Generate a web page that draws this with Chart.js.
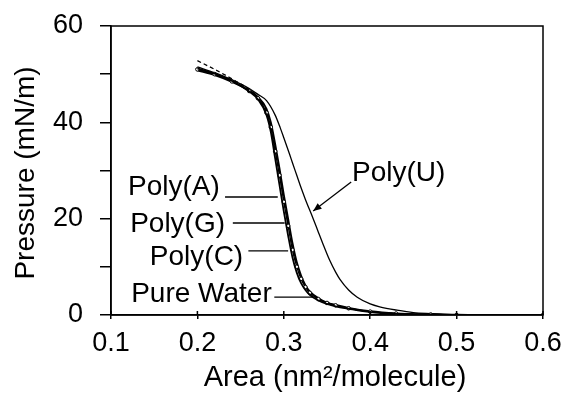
<!DOCTYPE html>
<html lang="en">
  <head>
    <meta charset="UTF-8" />
    <title>Pressure-area isotherms</title>
    <script src="https://cdn.jsdelivr.net/npm/chart.js"></script>
    <style>
      html, body { margin: 0; padding: 0; background: #fff; }
      #wrap { position: relative; width: 562px; height: 394px; }
    </style>
  </head>
  <body>
    <div id="wrap"><canvas id="myChart"></canvas></div>
    <script>
      // areas (nm2/molecule) shared by the four clustered curves
      var clusterArea = [0.20, 0.22, 0.24, 0.26, 0.27, 0.28, 0.285, 0.29, 0.295, 0.30, 0.305, 0.31, 0.315,
        0.32, 0.325, 0.33, 0.34, 0.35, 0.36, 0.375, 0.40, 0.43, 0.47, 0.50, 0.60];
      var pressA = [51.2, 50.1, 48.6, 46.4, 44.8, 41.5, 38, 32.5, 27, 21.5, 16.5, 12, 8.8,
        6.6, 5.2, 4.2, 3.0, 2.3, 1.8, 1.3, 0.6, 0.25, 0.1, 0, 0];
      var pressG = [51.0, 50.0, 48.5, 46.5, 45.0, 42.0, 39, 34, 29, 23.5, 18.5, 13.5, 10,
        7.5, 5.8, 4.6, 3.3, 2.5, 2.0, 1.4, 0.7, 0.3, 0.1, 0, 0];
      var pressC = [50.8, 49.8, 48.4, 46.6, 45.3, 42.8, 40, 35.5, 30.5, 25, 20, 15, 11,
        8.2, 6.2, 4.9, 3.5, 2.6, 2.1, 1.5, 0.8, 0.35, 0.12, 0, 0];
      var pressWater = [52.8, 51.0, 49.0, 46.8, 45.2, 42.3, 39.5, 34.8, 29.5, 24, 19, 14, 10.4,
        7.8, 6.0, 4.8, 3.4, 2.6, 2.0, 1.4, 0.7, 0.3, 0.1, 0, 0];

      var areaU = [0.20, 0.22, 0.24, 0.26, 0.27, 0.28, 0.29, 0.296, 0.30, 0.307, 0.31, 0.315, 0.32, 0.325,
        0.334, 0.34, 0.345, 0.353, 0.36, 0.365, 0.375, 0.385, 0.40, 0.411, 0.431, 0.45, 0.47, 0.50, 0.60];
      var pressU = [51.5, 50.3, 48.8, 47.0, 45.8, 44.5, 41.5, 38.8, 36.8, 33.2, 31.6, 29.0, 26.4, 24.0,
        20.0, 17.2, 14.9, 11.4, 8.9, 7.4, 5.2, 3.7, 2.3, 1.7, 1.0, 0.5, 0.3, 0.1, 0];

      var xTicks = [0.1, 0.2, 0.3, 0.4, 0.5, 0.6];
      var yLabels = [0, 20, 40, 60];

      function pts(xs, ys) {
        return xs.map(function (x, i) { return { x: x, y: ys[i] }; });
      }

      // label text + leader line, in data units
      var notes = [
        { text: "Poly(A)", tx: 0.226, ty: 26.6, align: "right", x1: 0.232, y1: 24.5, x2: 0.293, y2: 24.5 },
        { text: "Poly(G)", tx: 0.232, ty: 18.9, align: "right", x1: 0.241, y1: 19.1, x2: 0.301, y2: 19.1 },
        { text: "Poly(C)", tx: 0.253, ty: 12.0, align: "right", x1: 0.259, y1: 13.3, x2: 0.305, y2: 13.3 },
        { text: "Pure Water", tx: 0.286, ty: 4.4, align: "right", x1: 0.289, y1: 3.7, x2: 0.334, y2: 3.7 },
        { text: "Poly(U)", tx: 0.379, ty: 29.5, align: "left", x1: 0.378, y1: 27.6, x2: 0.334, y2: 21.6, arrow: true }
      ];

      var extras = {
        id: "extras",
        afterDraw: function (chart) {
          var ctx = chart.ctx;
          var a = chart.chartArea;
          var xs = chart.scales.x;
          var ys = chart.scales.y;
          ctx.save();
          ctx.strokeStyle = "#000";
          ctx.lineWidth = 1.5;
          ctx.strokeRect(a.left, a.top, a.right - a.left, a.bottom - a.top);
          // small inner tick marks on x axis
          xTicks.forEach(function (v) {
            var px = xs.getPixelForValue(v);
            ctx.beginPath();
            ctx.moveTo(px, a.bottom);
            ctx.lineTo(px, a.bottom - 4);
            ctx.stroke();
          });
          ctx.fillStyle = "#000";
          ctx.font = "28px 'Liberation Sans', Arial, sans-serif";
          ctx.textBaseline = "middle";
          ctx.lineWidth = 1.3;
          notes.forEach(function (n) {
            ctx.textAlign = n.align;
            ctx.fillText(n.text, xs.getPixelForValue(n.tx), ys.getPixelForValue(n.ty));
            var x1 = xs.getPixelForValue(n.x1), y1 = ys.getPixelForValue(n.y1);
            var x2 = xs.getPixelForValue(n.x2), y2 = ys.getPixelForValue(n.y2);
            ctx.beginPath();
            ctx.moveTo(x1, y1);
            ctx.lineTo(x2, y2);
            ctx.stroke();
            if (n.arrow) {
              var ang = Math.atan2(y2 - y1, x2 - x1);
              ctx.beginPath();
              ctx.moveTo(x2, y2);
              ctx.lineTo(x2 - 9 * Math.cos(ang - 0.4), y2 - 9 * Math.sin(ang - 0.4));
              ctx.lineTo(x2 - 9 * Math.cos(ang + 0.4), y2 - 9 * Math.sin(ang + 0.4));
              ctx.closePath();
              ctx.fill();
            }
          });
          // axis titles
          ctx.font = "29px 'Liberation Sans', Arial, sans-serif";
          ctx.textAlign = "center";
          ctx.fillText("Area (nm²/molecule)", 335, 378);
          ctx.font = "28px 'Liberation Sans', Arial, sans-serif";
          ctx.translate(26, 173);
          ctx.rotate(-Math.PI / 2);
          ctx.fillText("Pressure (mN/m)", 0, 0);
          ctx.restore();
        }
      };

      function line(label, data, extra) {
        var d = {
          label: label,
          data: data,
          borderColor: "#000",
          backgroundColor: "#fff",
          borderWidth: 1.3,
          pointRadius: 0,
          cubicInterpolationMode: "monotone",
          fill: false
        };
        return Object.assign(d, extra || {});
      }

      var ctx = document.getElementById("myChart");
      new Chart(ctx, {
        type: "line",
        data: {
          datasets: [
            line("Poly(A)", pts(clusterArea, pressA), { borderWidth: 1.8 }),
            line("Poly(G)", pts(clusterArea, pressG), { pointRadius: 1.8, pointBorderWidth: 1, pointBorderColor: "#000", pointBackgroundColor: "#fff" }),
            line("Poly(C)", pts(clusterArea, pressC), { borderWidth: 1.8 }),
            line("Pure Water", pts(clusterArea, pressWater), { borderDash: [4, 3] }),
            line("Poly(U)", pts(areaU, pressU))
          ]
        },
        options: {
          responsive: true,
          maintainAspectRatio: false,
          animation: false,
          layout: { padding: { top: 26, right: 19, left: 0, bottom: 0 } },
          plugins: { legend: { display: false }, tooltip: { enabled: false } },
          scales: {
            x: {
              type: "linear",
              min: 0.1,
              max: 0.6,
              afterFit: function (s) {
                s.height = 79;
                s.paddingLeft = 0;
                s.paddingRight = 0;
              },
              afterBuildTicks: function (s) {
                s.ticks = xTicks.map(function (v) { return { value: v }; });
              },
              ticks: {
                color: "#000",
                padding: 8,
                maxRotation: 0,
                font: { family: "'Liberation Sans', Arial, sans-serif", size: 27 },
                callback: function (v) { return Number(v).toFixed(1); }
              },
              grid: { drawOnChartArea: false, tickLength: 4, color: "#000", lineWidth: 1.5 },
              border: { color: "#000", width: 1.5 }
            },
            y: {
              min: 0,
              max: 60,
              afterFit: function (s) {
                s.width = 111;
                s.paddingTop = 0;
                s.paddingBottom = 0;
              },
              ticks: {
                stepSize: 10,
                color: "#000",
                padding: 17,
                font: { family: "'Liberation Sans', Arial, sans-serif", size: 27 },
                callback: function (v) { return yLabels.indexOf(v) >= 0 ? String(v) : ""; }
              },
              grid: { drawOnChartArea: false, tickLength: 11, color: "#000", lineWidth: 1.5 },
              border: { color: "#000", width: 1.5 }
            }
          }
        },
        plugins: [extras]
      });
    </script>
  </body>
</html>
